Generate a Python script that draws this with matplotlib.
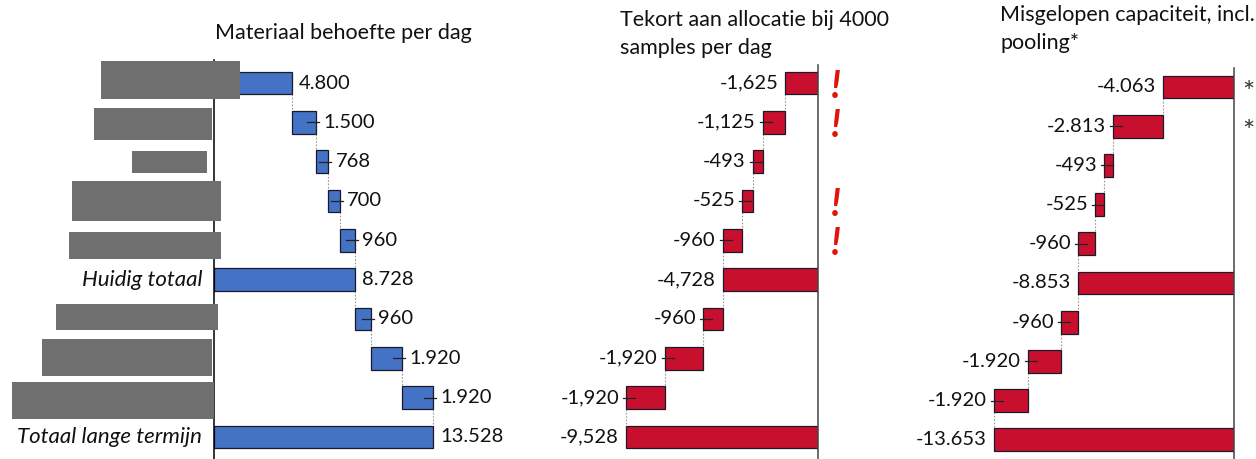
import matplotlib
matplotlib.use('Agg')
import matplotlib.pyplot as plt
from matplotlib.patches import Rectangle

W, H = 1256, 459
plt.rcParams['font.family'] = ['Lato', 'DejaVu Sans']

# ---------------- data ----------------
row_labels = ['', '', '', '', '', 'Huidig totaal', '', '', '', 'Totaal lange termijn']
is_total = [False, False, False, False, False, True, False, False, False, True]

demand = [4800, 1500, 768, 700, 960, 8728, 960, 1920, 1920, 13528]
demand_labels = ['4.800', '1.500', '768', '700', '960', '8.728', '960', '1.920', '1.920', '13.528']

shortage = [-1625, -1125, -493, -525, -960, -4728, -960, -1920, -1920, -9528]
shortage_labels = ['-1,625', '-1,125', '-493', '-525', '-960', '-4,728', '-960', '-1,920', '-1,920', '-9,528']

missed = [-4063, -2813, -493, -525, -960, -8853, -960, -1920, -1920, -13653]
missed_labels = ['-4.063', '-2.813', '-493', '-525', '-960', '-8.853', '-960', '-1.920', '-1.920', '-13.653']

alert_rows = [0, 1, 3, 4]
pooling_rows = [0, 1]

titles = ['Materiaal behoefte per dag',
          'Tekort aan allocatie bij 4000\nsamples per dag',
          'Misgelopen capaciteit, incl.\npooling*']

BLUE = '#4472C4'
RED = '#C8102E'
FS = 14.5
FS_TITLE = 15.5
FS_ROW = 16
BAR_H = 0.58

fig = plt.figure(figsize=(W / 100, H / 100), dpi=100)


def add_ax(x0, x1, y0, y1):
    return fig.add_axes([x0 / W, 1 - y1 / H, (x1 - x0) / W, (y1 - y0) / H])


def waterfall(values, totals):
    starts, ends = [], []
    run = 0
    for v, t in zip(values, totals):
        if t:
            starts.append(0)
            run = v
        else:
            starts.append(run)
            run = run + v
        ends.append(starts[-1] + v)
    return starts, ends


def panel(ax, values, labels, color, x_range, c0, spacing, top_px, positive):
    n = len(values)
    ax.set_xlim(*x_range)
    ax.set_ylim((H - c0) / spacing, (top_px - c0) / spacing)
    ax.axis('off')
    ax_w_px = ax.get_position().width * W
    upp = (x_range[1] - x_range[0]) / ax_w_px  # data units per pixel
    starts, ends = waterfall(values, is_total)
    ys = list(range(n))
    ax.barh(ys, values, left=starts, height=BAR_H, color=color,
            edgecolor='#1a1a2a', linewidth=0.9, zorder=3)
    # connectors
    for i in range(n - 1):
        ax.plot([ends[i], ends[i]], [i + BAR_H / 2, i + 1 - BAR_H / 2],
                color='#999999', lw=0.8, ls=(0, (1.5, 1.5)), zorder=2)
    for i in range(n):
        e = ends[i]
        if positive:
            if i > 0 and not is_total[i]:
                ax.plot([e - 9 * upp, e + 3 * upp], [i, i], color='#222222', lw=0.9, zorder=4)
            ax.text(e + 7 * upp, i, labels[i], ha='left', va='center', fontsize=FS, color='#111111')
        else:
            if i > 0 and not is_total[i]:
                ax.plot([e - 3 * upp, e + 9 * upp], [i, i], color='#222222', lw=0.9, zorder=4)
            ax.text(e - 7 * upp, i, labels[i], ha='right', va='center', fontsize=FS, color='#111111')
    return upp


# ---- left panel ----
ax1 = add_ax(214, 540, 60, H)
upp1 = panel(ax1, demand, demand_labels, BLUE, (0, 326 / 0.01619), 83, 39.33, 60, True)
ax1.plot([0, 0], [ax1.get_ylim()[0], ax1.get_ylim()[1]], color='black', lw=1.1, zorder=5, clip_on=False)
for i, lab in enumerate(row_labels):
    if lab:
        ax1.text(-12 * upp1, i, lab, ha='right', va='center', fontsize=FS_ROW, style='italic', color='#111111')
fig.text(215 / W, 1 - 33 / H, titles[0], ha='left', va='center', fontsize=FS_TITLE, color='#111111')

# ---- middle panel ----
ax2 = add_ax(540, 818, 65, H)
upp2 = panel(ax2, shortage, shortage_labels, RED, (-278 / 0.02015, 0), 83, 39.33, 65, False)
ax2.plot([0, 0], [ax2.get_ylim()[0], ax2.get_ylim()[1]], color='#444444', lw=1.1, zorder=5, clip_on=False)
for r in alert_rows:
    ax2.text(18 * upp2, r + 0.08, '!', ha='center', va='center', fontsize=27, fontweight='bold',
             style='italic', color='#E3120B', clip_on=False)
fig.text(620 / W, 1 - 34 / H, titles[1], ha='left', va='center', fontsize=FS_TITLE, color='#111111',
         linespacing=1.5)

# ---- right panel ----
ax3 = add_ax(940, 1234, 68, H)
upp3 = panel(ax3, missed, missed_labels, RED, (-294 / 0.01758, 0), 87, 39.2, 68, False)
ax3.plot([0, 0], [ax3.get_ylim()[0], ax3.get_ylim()[1]], color='#444444', lw=1.1, zorder=5, clip_on=False)
for r in pooling_rows:
    ax3.text(14 * upp3, r + 0.17, '*', ha='center', va='center', fontsize=21, color='#333333', clip_on=False)
fig.text(1000 / W, 1 - 29 / H, titles[2], ha='left', va='center', fontsize=FS_TITLE, color='#111111',
         linespacing=1.5)

# ---- redaction boxes over the category labels ----
boxes = [(101, 61, 240, 99), (94, 108, 212, 140), (132, 151, 207, 173), (72, 181, 221, 221),
         (69, 232, 221, 259), (56, 304, 218, 330), (42, 339, 212, 376), (12, 382, 214, 419)]
for (x0, y0, x1, y1) in boxes:
    fig.patches.append(Rectangle((x0 / W, 1 - y1 / H), (x1 - x0) / W, (y1 - y0) / H,
                                 transform=fig.transFigure, facecolor='#6f6f6f',
                                 edgecolor='none', zorder=10))

fig.savefig('out.png', dpi=100)
